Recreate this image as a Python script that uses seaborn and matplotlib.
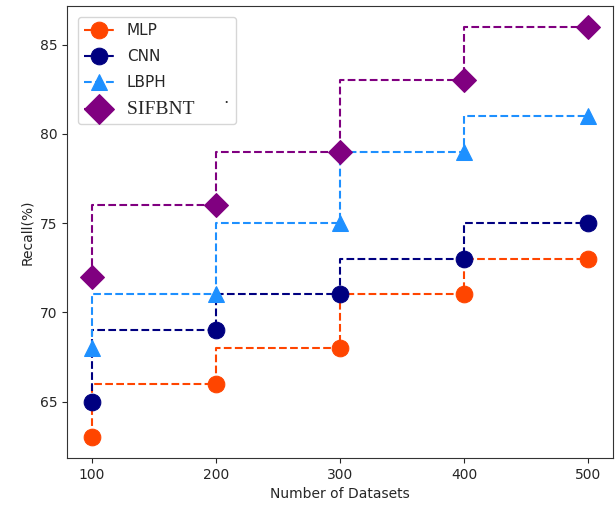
import pandas as pd
import matplotlib.pyplot as plt
import seaborn as sns

datasets = [100, 200, 300, 400, 500]
mlp = [63, 66, 68, 71, 73]
cnn = [65, 69, 71, 73, 75]
lbph = [68, 71, 75, 79, 81]
sifbnt = [72, 76, 79, 83, 86]

models = ["MLP", "CNN", "LBPH", "SIFBNT"]
colors = ["orangered", "navy", "dodgerblue", "purple"]
markers = ["o", "o", "^", "D"]

sns.set_style("ticks")
plt.rcParams["font.family"] = ["DejaVu Sans"]

fig = plt.figure(figsize=(6.16, 5.11), dpi=100)
ax = fig.add_axes([0.109, 0.104, 0.886, 0.884])

for name, vals, c, m in zip(models, [mlp, cnn, lbph, sifbnt], colors, markers):
    df = pd.DataFrame({"x": datasets, "y": vals})
    sns.lineplot(data=df, x="x", y="y", ax=ax, color=c, marker=m, markersize=12,
                 markeredgecolor=c, linestyle="--", linewidth=1.5,
                 drawstyle="steps-pre", label=name)

ax.set_xticks(datasets)
ax.set_yticks([65, 70, 75, 80, 85])
ax.set_xlabel("Number of Datasets")
ax.set_ylabel("Recall(%)")
for s in ax.spines.values():
    s.set_visible(True)
    s.set_color("#333333")

leg = ax.legend(loc="upper left", fontsize=11, frameon=True, labelspacing=0.72,
                borderaxespad=0.7)
texts = leg.get_texts()
texts[3].set_text("SIFBNT      \u02d9")
texts[3].set_fontfamily(["Liberation Serif", "DejaVu Sans"])
texts[3].set_fontsize(14)
leg.legend_handles[3].set_markersize(15)

fig.savefig("out.png", dpi=100)
